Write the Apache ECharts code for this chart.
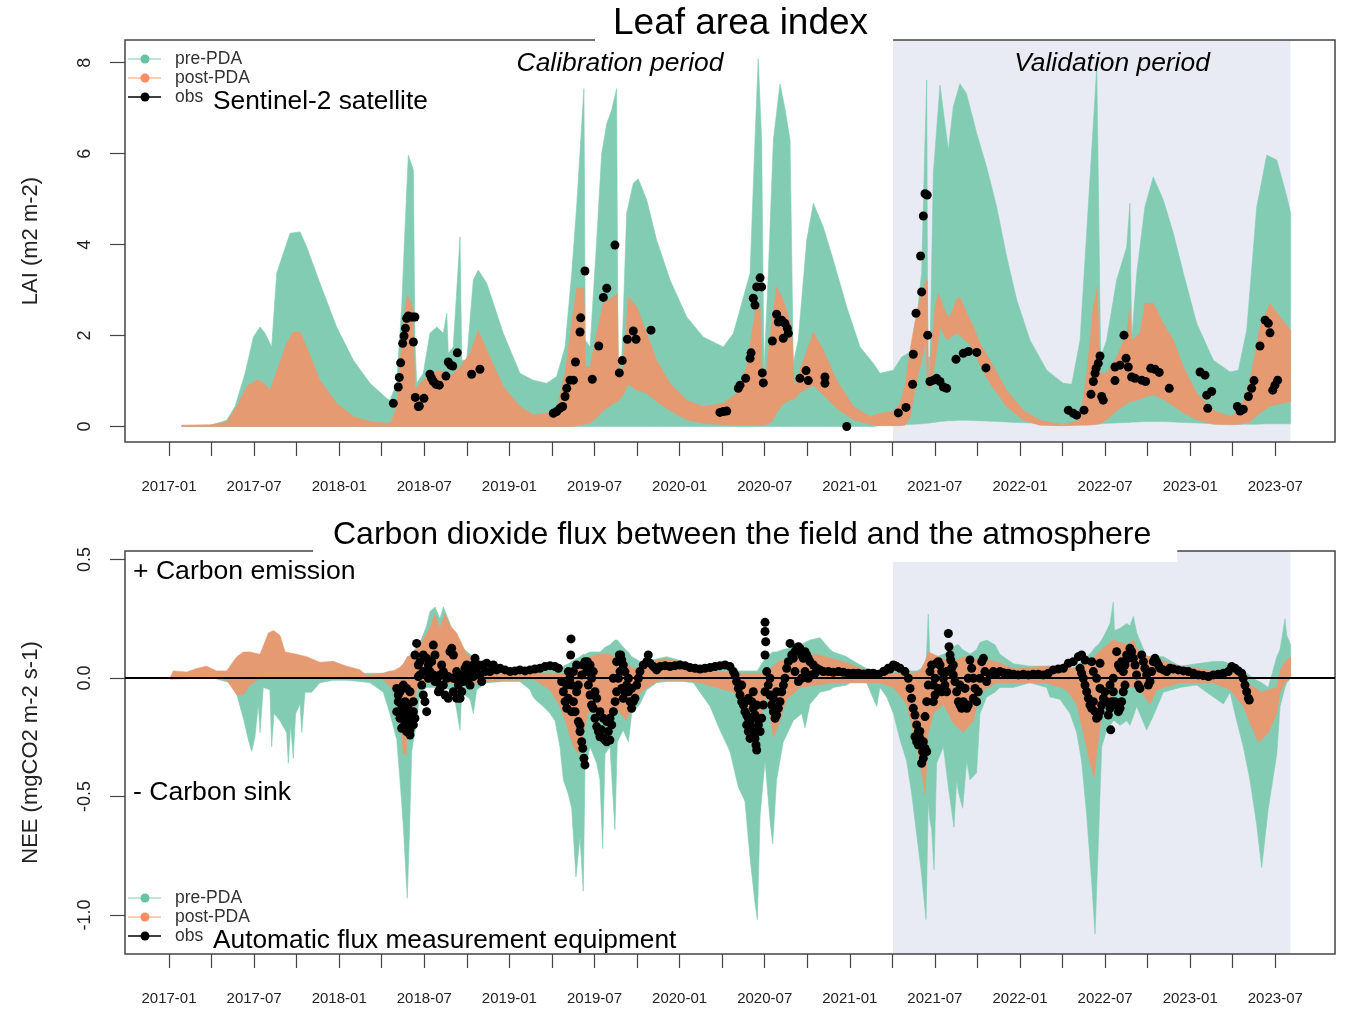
<!DOCTYPE html>
<html><head><meta charset="utf-8">
<script src="https://cdn.jsdelivr.net/npm/echarts@6/dist/echarts.min.js"></script>
<style>html,body{margin:0;padding:0;background:#fff}#c{width:1347px;height:1010px}</style>
</head><body><div id="c"></div>
<script>
// ---------- axis ticks / labels ----------
const xTickValues = [2017,2017.25,2017.5,2017.75,2018,2018.25,2018.5,2018.75,2019,2019.25,2019.5,2019.75,2020,2020.25,2020.5,2020.75,2021,2021.25,2021.5,2021.75,2022,2022.25,2022.5,2022.75,2023,2023.25,2023.5];
const xLabelValues = [2017,2017.5,2018,2018.5,2019,2019.5,2020,2020.5,2021,2021.5,2022,2022.5,2023,2023.5];
const laiTickValues = [0,2,4,6,8];
const neeTickValues = [-1,-0.5,0,0.5];
const validationPeriod = [2021.254, 2023.588];

// ---------- LAI (decimal year, lower, upper) ----------
const laiPreBand = [
[2017.074,0,0.00],[2017.241,0,0.02],[2017.339,0,0.14],[2017.388,0,0.44],[2017.447,0,1.17],[2017.496,0,1.97],[2017.535,0,2.19],[2017.564,0,2.05],[2017.603,0,1.75],[2017.633,0,3.37],[2017.672,0,3.81],[2017.711,0,4.25],[2017.770,0,4.28],[2017.809,0,3.95],[2017.887,0,3.15],[2017.985,0,2.19],[2018.083,0,1.46],[2018.181,0,0.95],[2018.279,0,0.62],[2018.298,0,0.58],[2018.338,0,0.95],[2018.367,0,2.63],[2018.387,0,4.39],[2018.406,0,5.97],[2018.436,0,5.64],[2018.445,0,1.90],[2018.455,0,0.95],[2018.494,0,1.17],[2018.533,0,2.05],[2018.573,0,2.19],[2018.612,0,2.05],[2018.632,0,2.49],[2018.641,0,1.61],[2018.670,0,1.75],[2018.710,0,4.17],[2018.720,0,1.46],[2018.749,0,1.46],[2018.788,0,3.22],[2018.817,0,3.44],[2018.867,0,3.15],[2018.964,0,2.05],[2019.062,0,1.17],[2019.140,0,1.02],[2019.219,0,0.95],[2019.278,0,1.10],[2019.327,0,1.75],[2019.366,0,3.37],[2019.395,0,4.83],[2019.425,0,6.66],[2019.438,0,7.43],[2019.446,0,1.90],[2019.474,0,1.75],[2019.513,0,4.10],[2019.542,0,6.00],[2019.572,0,6.66],[2019.601,0,6.96],[2019.630,0,7.43],[2019.638,0,1.46],[2019.660,0,1.46],[2019.689,0,4.69],[2019.728,0,5.35],[2019.757,0,5.45],[2019.807,0,4.98],[2019.865,0,4.10],[2019.944,0,3.22],[2020.042,0,2.41],[2020.139,0,1.97],[2020.257,0,1.75],[2020.316,0,2.05],[2020.365,0,2.71],[2020.414,0,3.37],[2020.443,0,6.30],[2020.462,0,8.09],[2020.482,0,6.30],[2020.496,0,1.24],[2020.521,0,3.37],[2020.551,0,6.30],[2020.590,0,7.54],[2020.619,0,6.99],[2020.649,0,6.30],[2020.668,0,1.39],[2020.697,0,1.90],[2020.747,0,4.10],[2020.786,0,4.91],[2020.844,0,4.39],[2020.903,0,3.66],[2020.982,0,2.63],[2021.060,0,1.75],[2021.138,0,1.39],[2021.177,0.02,1.17],[2021.256,0.03,1.24],[2021.305,0.04,1.53],[2021.373,0.05,1.68],[2021.422,0.06,3.37],[2021.442,0.07,6.30],[2021.452,0.07,7.62],[2021.458,0.07,1.53],[2021.471,0.08,1.53],[2021.491,0.09,5.57],[2021.530,0.11,7.51],[2021.559,0.12,6.66],[2021.579,0.13,6.08],[2021.608,0.13,7.03],[2021.647,0.14,7.54],[2021.686,0.14,7.32],[2021.746,0.13,6.44],[2021.804,0.12,5.71],[2021.863,0.11,4.83],[2021.922,0.10,3.73],[2021.981,0.09,2.78],[2022.059,0.08,1.90],[2022.157,0.06,1.24],[2022.254,0.05,0.95],[2022.304,0.05,0.93],[2022.353,0.05,1.90],[2022.401,0.05,4.83],[2022.431,0.06,6.66],[2022.451,0.06,7.91],[2022.474,0.06,1.53],[2022.509,0.07,1.90],[2022.568,0.08,3.22],[2022.627,0.09,3.95],[2022.646,0.09,4.91],[2022.656,0.10,1.90],[2022.686,0.10,3.37],[2022.734,0.11,4.83],[2022.783,0.11,5.49],[2022.842,0.11,4.98],[2022.901,0.10,4.25],[2022.960,0.09,3.37],[2023.038,0.08,2.27],[2023.136,0.06,1.46],[2023.234,0.05,1.20],[2023.283,0.05,1.24],[2023.332,0.05,2.12],[2023.391,0.05,4.83],[2023.450,0.06,5.97],[2023.509,0.06,5.86],[2023.568,0.06,5.05],[2023.590,0.06,4.69]
];
const laiPostBand = [
[2017.074,0,0.03],[2017.241,0,0.04],[2017.339,0,0.10],[2017.398,0,0.44],[2017.457,0,0.88],[2017.515,0,1.02],[2017.545,0,0.99],[2017.593,0,0.80],[2017.642,0,1.31],[2017.691,0,1.83],[2017.730,0,2.08],[2017.770,0,2.08],[2017.809,0,1.75],[2017.887,0,1.02],[2017.985,0,0.51],[2018.083,0,0.22],[2018.181,0,0.11],[2018.279,0,0.07],[2018.308,0,0.11],[2018.338,0,0.44],[2018.377,0,2.27],[2018.400,0,2.89],[2018.432,0,2.63],[2018.445,0,0.80],[2018.475,0,0.95],[2018.533,0,1.17],[2018.592,0,1.24],[2018.651,0,1.10],[2018.710,0,1.31],[2018.769,0,1.61],[2018.817,0,2.12],[2018.867,0,1.68],[2018.964,0,0.88],[2019.062,0,0.44],[2019.140,0,0.26],[2019.219,0,0.29],[2019.278,0,0.40],[2019.327,0,1.17],[2019.366,0,2.27],[2019.395,0.02,3.04],[2019.438,0.05,3.04],[2019.446,0.06,1.31],[2019.474,0.07,1.31],[2019.513,0.20,2.05],[2019.552,0.35,2.71],[2019.611,0.51,2.85],[2019.634,0.55,2.93],[2019.642,0.56,1.17],[2019.669,0.70,1.31],[2019.699,0.93,2.85],[2019.748,0.80,2.63],[2019.807,0.73,2.05],[2019.865,0.55,1.46],[2019.944,0.35,0.95],[2020.042,0.15,0.58],[2020.139,0.07,0.44],[2020.257,0.04,0.51],[2020.336,0.03,0.73],[2020.394,0.03,1.31],[2020.424,0.03,2.05],[2020.453,0.03,2.71],[2020.473,0.03,2.63],[2020.488,0.03,0.88],[2020.512,0.05,1.31],[2020.541,0.10,2.27],[2020.570,0.30,3.08],[2020.609,0.50,2.78],[2020.658,0.60,2.19],[2020.674,0.60,0.88],[2020.707,0.75,1.24],[2020.756,0.85,1.75],[2020.786,0.90,2.08],[2020.844,0.70,1.68],[2020.923,0.40,1.02],[2021.021,0.15,0.44],[2021.119,0.05,0.22],[2021.177,0.02,0.29],[2021.256,0.02,0.33],[2021.295,0.02,0.51],[2021.324,0.03,0.90],[2021.354,0.20,1.68],[2021.383,0.80,2.30],[2021.412,1.30,2.78],[2021.448,1.90,3.22],[2021.455,0.90,3.20],[2021.462,0.85,0.90],[2021.471,0.85,1.30],[2021.500,1.40,2.60],[2021.520,1.90,2.93],[2021.530,2.19,2.85],[2021.569,1.90,2.45],[2021.589,1.95,2.41],[2021.628,2.05,2.80],[2021.647,2.00,2.85],[2021.706,1.80,2.34],[2021.726,1.68,2.20],[2021.765,1.35,1.83],[2021.824,0.95,1.46],[2021.921,0.44,0.80],[2022.019,0.14,0.36],[2022.117,0.03,0.14],[2022.215,0.02,0.07],[2022.254,0.02,0.04],[2022.353,0.03,0.14],[2022.392,0.03,1.17],[2022.431,0.04,2.63],[2022.455,0.05,3.08],[2022.470,0.06,1.17],[2022.509,0.15,1.17],[2022.568,0.35,1.53],[2022.627,0.50,2.05],[2022.646,0.55,2.63],[2022.656,0.55,1.90],[2022.705,0.60,2.05],[2022.734,0.65,2.71],[2022.783,0.70,2.71],[2022.842,0.60,2.27],[2022.901,0.45,1.90],[2022.960,0.30,1.31],[2023.038,0.15,0.73],[2023.136,0.05,0.36],[2023.234,0.04,0.22],[2023.293,0.05,0.36],[2023.351,0.10,1.02],[2023.410,0.30,2.19],[2023.469,0.45,2.71],[2023.528,0.50,2.41],[2023.590,0.55,2.12]
];
const laiObs = [
[2018.318,0.51],[2018.347,0.87],[2018.353,1.08],[2018.361,1.40],[2018.373,1.83],[2018.381,1.99],[2018.389,2.16],[2018.396,2.38],[2018.406,2.43],[2018.416,2.41],[2018.432,2.41],[2018.445,2.41],[2018.436,1.86],[2018.447,0.64],[2018.465,0.44],[2018.471,0.45],[2018.498,0.62],[2018.533,1.15],[2018.543,1.06],[2018.553,0.99],[2018.569,0.93],[2018.588,0.91],[2018.627,1.11],[2018.641,1.42],[2018.655,1.35],[2018.667,1.33],[2018.694,1.62],[2018.778,1.15],[2018.827,1.26],
[2019.258,0.29],[2019.278,0.33],[2019.297,0.40],[2019.313,0.44],[2019.327,0.66],[2019.337,0.84],[2019.356,1.02],[2019.376,1.02],[2019.388,1.42],[2019.415,2.08],[2019.419,2.39],[2019.444,3.42],[2019.487,1.04],[2019.525,1.77],[2019.552,2.84],[2019.572,3.04],[2019.620,3.99],[2019.646,1.18],[2019.663,1.45],[2019.693,1.92],[2019.728,2.10],[2019.744,1.92],[2019.832,2.12],
[2020.237,0.31],[2020.257,0.33],[2020.277,0.34],[2020.345,0.84],[2020.355,0.91],[2020.388,1.06],[2020.414,1.50],[2020.420,1.62],[2020.433,2.82],[2020.443,2.67],[2020.453,3.07],[2020.473,3.27],[2020.482,3.07],[2020.486,1.18],[2020.492,0.96],[2020.545,1.88],[2020.570,2.47],[2020.580,2.30],[2020.600,2.34],[2020.609,1.94],[2020.619,2.27],[2020.633,2.16],[2020.639,2.05],[2020.707,1.06],[2020.743,1.23],[2020.756,1.01],[2020.854,1.09],[2020.854,0.95],[2020.982,0.00],
[2021.285,0.30],[2021.330,0.42],[2021.369,0.93],[2021.373,1.59],[2021.389,2.49],[2021.422,2.96],[2021.416,3.75],[2021.432,4.63],[2021.442,5.12],[2021.455,5.09],[2021.458,2.01],[2021.471,0.99],[2021.491,1.02],[2021.510,1.06],[2021.530,0.99],[2021.550,0.87],[2021.569,0.84],[2021.624,1.48],[2021.667,1.61],[2021.697,1.65],[2021.746,1.63],[2021.800,1.29],
[2022.284,0.36],[2022.313,0.29],[2022.333,0.25],[2022.376,0.36],[2022.417,0.71],[2022.431,0.99],[2022.441,1.17],[2022.447,1.28],[2022.460,1.39],[2022.470,1.55],[2022.480,0.66],[2022.489,0.58],[2022.558,1.01],[2022.558,1.31],[2022.588,1.35],[2022.611,2.01],[2022.623,1.50],[2022.636,1.31],[2022.656,1.09],[2022.676,1.06],[2022.715,1.02],[2022.738,0.99],[2022.768,1.28],[2022.793,1.26],[2022.818,1.19],[2022.877,0.84],
[2023.058,1.20],[2023.087,1.13],[2023.097,0.69],[2023.126,0.77],[2023.103,0.40],[2023.277,0.44],[2023.293,0.34],[2023.312,0.38],[2023.342,0.66],[2023.361,0.84],[2023.375,1.01],[2023.410,1.77],[2023.440,2.34],[2023.459,2.27],[2023.469,2.06],[2023.485,0.80],[2023.498,0.91],[2023.514,1.02]
];

// ---------- NEE (decimal year, lower, upper) ----------
const neePreBand = [
[2017.006,-0.005,0.00],[2017.260,0,0.01],[2017.358,-0.02,0.01],[2017.398,-0.07,0.01],[2017.437,-0.17,0.01],[2017.466,-0.26,0.01],[2017.486,-0.31,0.01],[2017.505,-0.25,0.01],[2017.525,-0.11,0.01],[2017.535,-0.23,0.01],[2017.554,-0.04,0.01],[2017.593,-0.05,0.02],[2017.603,-0.29,0.02],[2017.617,-0.15,0.02],[2017.652,-0.18,0.02],[2017.691,-0.23,0.02],[2017.701,-0.36,0.02],[2017.715,-0.20,0.02],[2017.730,-0.34,0.02],[2017.744,-0.15,0.02],[2017.770,-0.11,0.02],[2017.780,-0.23,0.02],[2017.799,-0.06,0.02],[2017.838,-0.06,0.02],[2017.887,-0.02,0.06],[2017.965,-0.01,0.07],[2018.044,-0.01,0.04],[2018.122,-0.015,0.02],[2018.181,-0.02,0.02],[2018.259,-0.06,0.02],[2018.298,-0.15,0.03],[2018.338,-0.26,0.03],[2018.357,-0.43,0.04],[2018.377,-0.63,0.05],[2018.393,-0.84,0.06],[2018.400,-0.93,0.07],[2018.412,-0.67,0.08],[2018.426,-0.31,0.09],[2018.445,-0.23,0.12],[2018.475,-0.06,0.15],[2018.514,-0.04,0.22],[2018.533,-0.04,0.28],[2018.563,-0.04,0.30],[2018.592,-0.04,0.25],[2018.612,-0.04,0.30],[2018.651,-0.05,0.23],[2018.670,-0.05,0.19],[2018.710,-0.22,0.15],[2018.720,-0.06,0.13],[2018.769,-0.09,0.10],[2018.788,-0.15,0.09],[2018.808,-0.05,0.08],[2018.867,-0.02,0.06],[2018.964,-0.015,0.04],[2019.062,-0.015,0.035],[2019.121,-0.05,0.035],[2019.140,-0.08,0.03],[2019.150,-0.09,0.03],[2019.199,-0.12,0.03],[2019.239,-0.15,0.04],[2019.268,-0.18,0.04],[2019.297,-0.29,0.04],[2019.317,-0.43,0.05],[2019.346,-0.49,0.06],[2019.366,-0.55,0.07],[2019.391,-0.84,0.08],[2019.415,-0.67,0.09],[2019.434,-0.90,0.10],[2019.444,-0.39,0.10],[2019.474,-0.29,0.11],[2019.513,-0.36,0.11],[2019.532,-0.43,0.11],[2019.548,-0.72,0.12],[2019.562,-0.32,0.13],[2019.591,-0.29,0.14],[2019.620,-0.64,0.16],[2019.634,-0.27,0.16],[2019.669,-0.22,0.13],[2019.699,-0.27,0.11],[2019.719,-0.15,0.09],[2019.767,-0.11,0.07],[2019.807,-0.05,0.07],[2019.865,-0.02,0.08],[2019.924,-0.015,0.09],[2020.022,-0.015,0.07],[2020.081,-0.02,0.05],[2020.120,-0.06,0.04],[2020.179,-0.12,0.04],[2020.237,-0.22,0.04],[2020.296,-0.31,0.03],[2020.345,-0.46,0.03],[2020.384,-0.52,0.03],[2020.414,-0.76,0.03],[2020.443,-0.95,0.03],[2020.457,-1.02,0.03],[2020.473,-0.58,0.05],[2020.502,-0.35,0.08],[2020.531,-0.60,0.10],[2020.547,-0.70,0.11],[2020.570,-0.43,0.11],[2020.609,-0.27,0.12],[2020.668,-0.18,0.13],[2020.717,-0.15,0.14],[2020.737,-0.21,0.15],[2020.766,-0.11,0.16],[2020.825,-0.06,0.17],[2020.884,-0.05,0.12],[2020.903,-0.04,0.11],[2020.982,-0.03,0.09],[2021.001,-0.02,0.08],[2021.099,-0.02,0.04],[2021.158,-0.12,0.03],[2021.177,-0.04,0.03],[2021.217,-0.08,0.03],[2021.256,-0.15,0.03],[2021.295,-0.26,0.03],[2021.334,-0.35,0.03],[2021.364,-0.49,0.03],[2021.393,-0.66,0.03],[2021.422,-0.83,0.04],[2021.448,-1.02,0.05],[2021.461,-0.52,0.27],[2021.471,-0.60,0.08],[2021.481,-0.64,0.08],[2021.495,-0.81,0.09],[2021.510,-0.36,0.09],[2021.550,-0.29,0.10],[2021.579,-0.46,0.11],[2021.612,-0.63,0.13],[2021.628,-0.43,0.14],[2021.638,-0.48,0.14],[2021.663,-0.55,0.12],[2021.687,-0.35,0.11],[2021.706,-0.43,0.10],[2021.745,-0.40,0.12],[2021.765,-0.15,0.15],[2021.804,-0.08,0.16],[2021.853,-0.06,0.14],[2021.882,-0.04,0.10],[2021.961,-0.04,0.06],[2022.059,-0.02,0.05],[2022.157,-0.04,0.05],[2022.176,-0.08,0.05],[2022.235,-0.09,0.04],[2022.294,-0.15,0.04],[2022.333,-0.23,0.05],[2022.362,-0.35,0.07],[2022.392,-0.58,0.09],[2022.421,-0.86,0.11],[2022.441,-1.08,0.13],[2022.460,-0.70,0.14],[2022.480,-0.29,0.16],[2022.509,-0.22,0.20],[2022.529,-0.20,0.23],[2022.548,-0.18,0.32],[2022.555,-0.18,0.20],[2022.588,-0.20,0.21],[2022.627,-0.18,0.23],[2022.646,-0.20,0.22],[2022.666,-0.16,0.26],[2022.686,-0.12,0.19],[2022.744,-0.22,0.09],[2022.783,-0.16,0.09],[2022.842,-0.06,0.09],[2022.940,-0.04,0.05],[2023.038,-0.03,0.06],[2023.136,-0.08,0.07],[2023.195,-0.11,0.07],[2023.234,-0.06,0.06],[2023.273,-0.18,0.05],[2023.312,-0.29,0.03],[2023.351,-0.43,0.01],[2023.391,-0.62,-0.01],[2023.420,-0.80,-0.02],[2023.459,-0.55,-0.04],[2023.509,-0.32,0.09],[2023.528,-0.12,0.12],[2023.557,-0.04,0.25],[2023.567,-0.02,0.18],[2023.590,0,0.14]
];
const neePostBand = [
[2017.006,0,0.00],[2017.025,0,0.03],[2017.104,0,0.025],[2017.163,0,0.04],[2017.221,0,0.05],[2017.280,0,0.03],[2017.339,-0.01,0.03],[2017.378,-0.05,0.07],[2017.398,-0.07,0.09],[2017.437,-0.07,0.11],[2017.476,-0.03,0.11],[2017.535,0,0.10],[2017.584,0,0.19],[2017.613,0,0.20],[2017.652,0,0.18],[2017.682,0,0.11],[2017.750,0,0.10],[2017.809,0,0.09],[2017.887,0,0.066],[2017.965,0,0.07],[2018.044,0,0.05],[2018.122,0,0.035],[2018.161,0,0.01],[2018.259,-0.005,0.02],[2018.318,-0.05,0.03],[2018.357,-0.17,0.045],[2018.377,-0.32,0.06],[2018.393,-0.32,0.08],[2018.400,-0.20,0.09],[2018.436,-0.15,0.10],[2018.455,-0.05,0.12],[2018.475,-0.02,0.14],[2018.533,-0.02,0.21],[2018.563,-0.02,0.27],[2018.592,-0.02,0.21],[2018.622,-0.02,0.27],[2018.651,-0.02,0.22],[2018.690,-0.02,0.19],[2018.749,-0.03,0.10],[2018.827,-0.02,0.06],[2018.964,-0.01,0.035],[2019.062,-0.01,0.025],[2019.141,-0.005,0.02],[2019.239,-0.05,0.02],[2019.297,-0.12,0.02],[2019.337,-0.20,0.02],[2019.376,-0.29,0.03],[2019.405,-0.32,0.04],[2019.415,-0.30,0.05],[2019.434,-0.23,0.06],[2019.474,-0.12,0.09],[2019.532,-0.18,0.10],[2019.572,-0.18,0.10],[2019.591,-0.15,0.10],[2019.630,-0.13,0.08],[2019.689,-0.18,0.06],[2019.728,-0.09,0.04],[2019.807,-0.04,0.05],[2019.885,-0.01,0.08],[2019.924,-0.01,0.08],[2020.002,-0.01,0.07],[2020.120,-0.02,0.05],[2020.218,-0.04,0.03],[2020.316,-0.06,0.02],[2020.394,-0.12,0.02],[2020.433,-0.29,0.02],[2020.453,-0.29,0.02],[2020.482,-0.15,0.02],[2020.512,-0.06,0.03],[2020.551,-0.25,0.05],[2020.580,-0.20,0.07],[2020.629,-0.09,0.08],[2020.707,-0.04,0.09],[2020.805,-0.03,0.10],[2020.903,-0.02,0.08],[2021.001,-0.02,0.06],[2021.099,-0.02,0.03],[2021.177,-0.02,0.02],[2021.256,-0.04,0.02],[2021.334,-0.11,0.02],[2021.373,-0.23,0.02],[2021.413,-0.36,0.03],[2021.442,-0.49,0.07],[2021.461,-0.23,0.11],[2021.491,-0.15,0.10],[2021.550,-0.11,0.08],[2021.608,-0.19,0.07],[2021.667,-0.23,0.09],[2021.726,-0.18,0.08],[2021.765,-0.06,0.08],[2021.863,-0.02,0.07],[2021.961,-0.02,0.04],[2022.157,-0.02,0.05],[2022.274,-0.05,0.045],[2022.333,-0.11,0.04],[2022.372,-0.23,0.05],[2022.411,-0.36,0.07],[2022.435,-0.42,0.09],[2022.450,-0.32,0.10],[2022.480,-0.15,0.12],[2022.548,-0.06,0.16],[2022.627,-0.04,0.14],[2022.666,-0.04,0.16],[2022.705,-0.05,0.10],[2022.764,-0.11,0.09],[2022.803,-0.05,0.08],[2022.940,-0.02,0.05],[2023.136,-0.02,0.03],[2023.234,-0.05,0.03],[2023.312,-0.12,0.00],[2023.351,-0.19,-0.03],[2023.400,-0.27,-0.05],[2023.420,-0.26,-0.06],[2023.459,-0.23,-0.05],[2023.509,-0.15,-0.04],[2023.528,-0.06,0.03],[2023.557,-0.02,0.07],[2023.590,0,0.09]
];
const neeObs = [
[2018.338,-0.044],[2018.357,-0.058],[2018.347,-0.100],[2018.367,-0.114],[2018.338,-0.142],[2018.377,-0.142],[2018.357,-0.170],[2018.387,-0.184],[2018.367,-0.212],[2018.396,-0.226],[2018.416,-0.219],[2018.436,-0.198],[2018.426,-0.156],[2018.445,-0.170],[2018.406,-0.114],[2018.436,-0.100],[2018.416,-0.058],[2018.396,-0.044],[2018.377,-0.030],[2018.347,-0.072],[2018.387,-0.100],[2018.406,-0.170],[2018.426,-0.198],[2018.377,-0.205],[2018.396,-0.142],[2018.436,-0.142],[2018.367,-0.156],[2018.416,-0.241],
[2018.455,0.146],[2018.445,0.097],[2018.465,0.055],[2018.475,0.013],[2018.485,-0.030],[2018.494,-0.072],[2018.504,-0.100],[2018.514,-0.142],[2018.524,-0.001],[2018.533,0.027],[2018.543,0.069],[2018.553,0.139],[2018.563,0.097],[2018.573,-0.015],[2018.583,-0.058],[2018.592,0.013],[2018.602,0.055],[2018.612,-0.030],[2018.622,-0.072],[2018.632,-0.001],[2018.641,-0.086],[2018.651,0.111],[2018.661,0.125],[2018.671,0.097],[2018.680,-0.001],[2018.690,0.027],[2018.700,-0.030],[2018.710,-0.086],[2018.720,-0.058],[2018.729,0.013],[2018.739,0.041],[2018.749,0.055],[2018.759,-0.001],[2018.769,-0.030],[2018.778,0.027],[2018.788,0.055],[2018.798,0.083],[2018.808,0.041],[2018.827,0.013],[2018.837,-0.015],[2018.847,0.055],[2018.867,0.062],[2018.886,0.027],[2018.906,0.055],[2018.925,0.034],[2018.945,0.041],
[2018.465,0.006],[2018.494,0.027],[2018.524,0.055],[2018.553,0.013],[2018.583,0.006],[2018.612,0.027],[2018.641,0.006],[2018.671,-0.001],[2018.700,0.006],[2018.729,-0.015],[2018.759,0.027],[2018.788,0.006],[2018.817,0.055],[2018.857,0.027],[2018.475,0.069],[2018.494,0.097],[2018.514,0.083],[2018.563,-0.015],[2018.592,-0.044],[2018.671,-0.058],[2018.690,-0.086],[2018.749,0.027],[2018.798,0.048],
[2018.974,0.034],[2019.004,0.027],[2019.033,0.030],[2019.062,0.034],[2019.092,0.030],[2019.121,0.034],[2019.150,0.038],[2019.180,0.041],[2019.209,0.048],[2019.239,0.052],[2019.268,0.048],[2019.288,0.041],
[2019.307,-0.015],[2019.317,-0.058],[2019.327,-0.100],[2019.337,-0.128],[2019.346,-0.086],[2019.356,-0.001],[2019.360,0.097],[2019.362,0.165],[2019.366,-0.030],[2019.376,-0.100],[2019.386,-0.142],[2019.395,0.055],[2019.405,-0.184],[2019.415,-0.226],[2019.425,-0.269],[2019.431,-0.297],[2019.438,-0.339],[2019.444,-0.367],[2019.415,-0.198],[2019.405,-0.030],[2019.425,0.013],[2019.434,0.055],[2019.444,0.069],[2019.454,0.027],[2019.464,-0.030],[2019.474,-0.072],[2019.483,-0.114],[2019.493,-0.128],[2019.503,-0.170],[2019.513,-0.205],[2019.523,-0.226],[2019.532,-0.248],[2019.542,-0.219],[2019.552,-0.255],[2019.562,-0.262],[2019.572,-0.269],[2019.581,-0.226],[2019.591,-0.262],[2019.601,-0.198],[2019.611,-0.142],[2019.621,-0.100],[2019.630,-0.058],[2019.640,-0.001],[2019.646,0.097],[2019.654,0.097],[2019.660,0.076],[2019.669,0.055],[2019.679,0.027],[2019.689,-0.030],[2019.699,-0.058],[2019.709,-0.100],[2019.718,-0.128],[2019.728,-0.100],[2019.738,-0.086],[2019.748,-0.030],[2019.758,-0.001],[2019.767,0.027],[2019.787,0.055],[2019.807,0.069],[2019.816,0.097],[2019.826,0.062],[2019.846,0.048],[2019.865,0.034],
[2019.458,0.069],[2019.474,0.055],[2019.493,0.027],[2019.483,-0.001],[2019.503,-0.058],[2019.513,-0.086],[2019.532,-0.142],[2019.552,-0.170],[2019.572,-0.184],[2019.591,-0.170],[2019.611,-0.001],[2019.630,0.069],[2019.650,0.027],[2019.660,-0.044],[2019.669,-0.086],[2019.679,-0.058],[2019.699,-0.001],[2019.718,-0.044],[2019.346,0.027],[2019.376,0.027],[2019.395,-0.058],[2019.337,-0.030],[2019.366,-0.142],
[2019.885,0.048],[2019.914,0.052],[2019.944,0.048],[2019.973,0.052],[2020.002,0.055],[2020.032,0.052],[2020.061,0.044],[2020.091,0.041],[2020.120,0.038],[2020.149,0.041],[2020.179,0.044],[2020.208,0.048],[2020.237,0.052],[2020.267,0.055],[2020.296,0.048],
[2020.316,0.027],[2020.326,0.013],[2020.335,-0.015],[2020.345,-0.044],[2020.355,-0.072],[2020.365,-0.100],[2020.375,-0.114],[2020.384,-0.142],[2020.394,-0.156],[2020.404,-0.170],[2020.414,-0.184],[2020.424,-0.212],[2020.433,-0.226],[2020.443,-0.255],[2020.449,-0.283],[2020.453,-0.304],[2020.404,-0.226],[2020.414,-0.255],[2020.394,-0.198],[2020.384,-0.100],[2020.404,-0.086],[2020.424,-0.100],[2020.433,-0.128],[2020.443,-0.156],[2020.453,-0.170],[2020.463,-0.198],[2020.473,-0.226],[2020.482,-0.170],[2020.492,-0.114],[2020.502,-0.058],[2020.502,0.097],[2020.506,0.153],[2020.502,0.196],[2020.502,0.235],[2020.512,0.027],[2020.521,-0.030],[2020.531,-0.072],[2020.541,-0.114],[2020.551,-0.142],[2020.561,-0.170],[2020.570,-0.156],[2020.580,-0.128],[2020.590,-0.100],[2020.600,-0.058],[2020.610,-0.030],[2020.619,-0.001],[2020.629,0.041],[2020.639,0.069],[2020.649,0.146],[2020.659,0.097],[2020.668,0.083],[2020.678,0.111],[2020.688,0.125],[2020.698,0.132],[2020.707,0.125],[2020.717,0.097],[2020.727,0.083],[2020.737,0.111],[2020.747,0.097],[2020.756,0.083],[2020.766,0.069],[2020.786,0.055],[2020.805,0.041],[2020.825,0.034],
[2020.678,0.027],[2020.698,-0.015],[2020.717,-0.001],[2020.737,0.027],[2020.756,-0.001],[2020.776,0.013],[2020.796,0.020],[2020.551,-0.086],[2020.570,-0.058],[2020.531,-0.001],[2020.433,-0.058],[2020.453,-0.114],[2020.365,-0.030],
[2020.845,0.027],[2020.874,0.027],[2020.903,0.024],[2020.933,0.027],[2020.962,0.024],[2020.991,0.020],[2021.021,0.020],[2021.050,0.020],[2021.080,0.017],[2021.109,0.020],[2021.138,0.020],[2021.168,0.016],[2021.197,0.027],[2021.226,0.041],[2021.256,0.055],[2021.275,0.048],[2021.295,0.041],[2021.324,0.027],[2021.344,-0.001],
[2021.207,0.030],[2021.236,0.038],[2021.266,0.052],
[2021.354,-0.044],[2021.363,-0.086],[2021.373,-0.128],[2021.383,-0.156],[2021.393,-0.198],[2021.403,-0.226],[2021.412,-0.255],[2021.422,-0.283],[2021.428,-0.311],[2021.432,-0.339],[2021.422,-0.360],[2021.403,-0.283],[2021.393,-0.269],[2021.383,-0.248],[2021.442,-0.297],[2021.452,-0.311],[2021.432,-0.269],[2021.412,-0.226],[2021.442,-0.163],
[2021.452,-0.100],[2021.461,-0.030],[2021.471,0.027],[2021.481,0.055],[2021.491,-0.030],[2021.501,-0.072],[2021.491,-0.100],[2021.510,0.062],[2021.520,0.069],[2021.530,0.055],[2021.540,0.027],[2021.550,-0.001],[2021.559,-0.030],[2021.569,-0.058],[2021.579,0.188],[2021.583,0.132],[2021.589,0.097],[2021.593,0.076],[2021.598,0.041],[2021.608,0.013],[2021.618,-0.015],[2021.628,-0.058],[2021.638,-0.100],[2021.647,-0.114],[2021.657,-0.128],[2021.667,-0.100],[2021.677,-0.114],[2021.687,-0.128],[2021.696,-0.114],[2021.706,0.076],[2021.716,0.041],[2021.726,-0.001],[2021.736,-0.044],[2021.745,-0.100],[2021.755,-0.058],[2021.765,-0.001],[2021.775,0.069],[2021.785,0.083],[2021.794,0.027],[2021.804,-0.015],[2021.824,0.013],[2021.843,0.027],[2021.863,0.020],[2021.882,0.027],
[2021.501,-0.001],[2021.520,-0.044],[2021.540,-0.058],[2021.569,0.027],[2021.608,0.055],[2021.647,-0.030],[2021.677,-0.044],[2021.696,-0.001],[2021.726,-0.086],
[2021.902,0.022],[2021.931,0.020],[2021.961,0.016],[2021.990,0.013],[2022.020,0.016],[2022.049,0.013],[2022.078,0.016],[2022.108,0.016],[2022.137,0.013],[2022.166,0.020],[2022.196,0.034],[2022.225,0.038],[2022.255,0.041],[2022.284,0.062],[2022.313,0.069],[2022.343,0.090],[2022.362,0.097],[2022.382,0.076],
[2022.353,0.041],[2022.362,0.020],[2022.372,-0.001],[2022.382,-0.030],[2022.392,-0.058],[2022.402,-0.086],[2022.411,-0.114],[2022.421,-0.128],[2022.431,-0.100],[2022.441,-0.142],[2022.450,-0.170],[2022.460,-0.163],[2022.470,-0.142],[2022.480,-0.114],[2022.490,-0.086],[2022.499,-0.058],[2022.509,-0.100],[2022.519,-0.156],[2022.529,-0.128],[2022.533,-0.219],[2022.539,-0.100],[2022.548,-0.058],[2022.558,-0.100],[2022.568,-0.114],[2022.578,-0.142],[2022.588,-0.128],[2022.597,-0.100],[2022.607,-0.058],[2022.617,-0.030],[2022.568,0.111],[2022.578,0.055],[2022.588,0.041],[2022.597,0.069],[2022.607,0.027],[2022.617,0.055],[2022.627,0.097],[2022.637,0.083],[2022.646,0.125],[2022.656,0.111],[2022.666,0.083],[2022.676,0.055],[2022.685,0.013],[2022.695,-0.030],[2022.705,-0.044],[2022.715,0.097],[2022.725,0.069],[2022.734,0.041],[2022.744,0.013],[2022.754,-0.030],[2022.764,-0.015],[2022.774,0.027],[2022.783,0.069],[2022.793,0.083],[2022.803,0.069],[2022.813,0.055],[2022.823,0.041],[2022.842,0.034],[2022.862,0.027],[2022.881,0.041],
[2022.421,0.069],[2022.470,0.062],[2022.431,0.027],[2022.450,-0.001],[2022.470,-0.044],[2022.529,-0.030],[2022.548,-0.001],
[2022.901,0.038],[2022.930,0.034],[2022.960,0.030],[2022.989,0.027],[2023.018,0.020],[2023.048,0.013],[2023.077,0.010],[2023.107,0.006],[2023.136,0.013],[2023.165,0.016],[2023.195,0.020],[2023.224,0.027],[2023.244,0.048],[2023.263,0.041],[2023.283,0.030],[2023.302,0.020],[2023.312,-0.001],[2023.322,-0.030],[2023.332,-0.058],[2023.342,-0.086],[2023.347,-0.093]
];

// ---------- styling ----------
const FONT = 'Liberation Sans, Arial, Helvetica, sans-serif';
const GREEN = '#82CCB4', ORANGE = '#E59A72', SHADE = '#E8EBF4';
const AXIS_COL = '#444';

// band between lower and upper, drawn as one polygon through the axis scales
function band(rows, color, gi, z) {
  return { type:'custom', xAxisIndex:gi, yAxisIndex:gi, silent:true, z:z, clip:true,
    data: rows, encode:{x:0, y:[1,2]},
    renderItem: function (params, api) {
      if (params.dataIndex !== 0) return null;
      const up = rows.map(r => api.coord([r[0], r[2]]));
      const lo = rows.slice().reverse().map(r => api.coord([r[0], r[1]]));
      return {type:'polygon', shape:{points: up.concat(lo)}, style:{fill:color, stroke:color, lineWidth:0.6}};
    } };
}

function xAxisOf(gi) {
  return { type:'value', gridIndex:gi, min:2016.7415, max:2023.8508,
    axisLine:{show:false, onZero:false}, splitLine:{show:false},
    axisTick:{show:true, inside:false, length:14, lineStyle:{color:AXIS_COL, width:1.2}, customValues:xTickValues},
    axisLabel:{customValues:xLabelValues, margin:37, fontSize:15, color:'#222', fontFamily:FONT,
      formatter: v => Math.floor(v + 1e-6) + ((v - Math.floor(v + 1e-6)) < 0.25 ? '-01' : '-07')} };
}

function legendGraphics(y0, caption) {
  const rows = [
    {y:y0, line:'#A9DCCB', dot:'#66C2A5', text:'pre-PDA'},
    {y:y0+19, line:'#FDBBA0', dot:'#FC8D62', text:'post-PDA'},
    {y:y0+38, line:'#000', dot:'#000', text:'obs'}
  ];
  const g = [];
  rows.forEach(r => {
    g.push({type:'line', z:10, shape:{x1:128, y1:r.y, x2:161, y2:r.y}, style:{stroke:r.line, lineWidth:1.6}});
    g.push({type:'circle', z:10, shape:{cx:145, cy:r.y, r:4.5}, style:{fill:r.dot}});
    g.push({type:'text', z:10, style:{text:r.text, x:175, y:r.y, fill:'#333', fontSize:17.5, fontFamily:FONT, align:'left', verticalAlign:'middle'}});
  });
  g.push({type:'text', z:10, style:{text:caption, x:213, y:y0+43, fill:'#000', fontSize:26.3, fontFamily:FONT, align:'left', verticalAlign:'middle'}});
  return g;
}

const option = {
  animation:false,
  backgroundColor:'#fff',
  title:[
    {text:'Leaf area index', left:595, top:0, padding:[4,25,4,18], backgroundColor:'#fff', z:8,
     textStyle:{fontSize:37, fontWeight:'normal', color:'#000', fontFamily:FONT, lineHeight:40}},
    {text:'Carbon dioxide flux between the field and the atmosphere', left:313, top:511, padding:[6,26,9,20], backgroundColor:'#fff', z:8,
     textStyle:{fontSize:32, fontWeight:'normal', color:'#000', fontFamily:FONT, lineHeight:36}}
  ],
  grid:[
    {left:125, top:40, width:1210, height:402, show:true, borderColor:'#444', borderWidth:1.5, backgroundColor:'transparent', z:4},
    {left:125, top:551, width:1210, height:403, show:true, borderColor:'#444', borderWidth:1.5, backgroundColor:'transparent', z:4}
  ],
  xAxis:[xAxisOf(0), xAxisOf(1)],
  yAxis:[
    {type:'value', gridIndex:0, min:-0.34, max:8.5, name:'LAI (m2 m-2)', nameLocation:'middle', nameGap:83, nameRotate:90,
     nameTextStyle:{fontSize:22, color:'#222', fontFamily:FONT},
     axisLine:{show:false, onZero:false}, splitLine:{show:false},
     axisTick:{show:true, length:15, lineStyle:{color:AXIS_COL, width:1.2}, customValues:laiTickValues},
     axisLabel:{customValues:laiTickValues, rotate:90, margin:31, fontSize:18, color:'#222', fontFamily:FONT}},
    {type:'value', gridIndex:1, min:-1.165, max:0.536, name:'NEE (mgCO2 m-2 s-1)', nameLocation:'middle', nameGap:83, nameRotate:90,
     nameTextStyle:{fontSize:22, color:'#222', fontFamily:FONT},
     axisLine:{show:false, onZero:false}, splitLine:{show:false},
     axisTick:{show:true, length:15, lineStyle:{color:AXIS_COL, width:1.2}, customValues:neeTickValues},
     axisLabel:{customValues:neeTickValues, rotate:90, margin:31, fontSize:18, color:'#222', fontFamily:FONT,
       formatter: v => v.toFixed(1)}}
  ],
  graphic: [].concat(
    legendGraphics(59, 'Sentinel-2 satellite'),
    legendGraphics(898, 'Automatic flux measurement equipment'),
    [
      {type:'text', z:10, style:{text:'Calibration period', x:620, y:64, fill:'#000', fontSize:26.4, fontStyle:'italic', fontFamily:FONT, align:'center', verticalAlign:'middle'}},
      {type:'text', z:10, style:{text:'Validation period', x:1112, y:64, fill:'#000', fontSize:26.4, fontStyle:'italic', fontFamily:FONT, align:'center', verticalAlign:'middle'}},
      {type:'text', z:10, style:{text:'+ Carbon emission', x:133, y:572, fill:'#000', fontSize:26.6, fontFamily:FONT, align:'left', verticalAlign:'middle'}},
      {type:'text', z:10, style:{text:'- Carbon sink', x:133, y:793, fill:'#000', fontSize:26.6, fontFamily:FONT, align:'left', verticalAlign:'middle'}}
    ]
  ),
  series: [
    band(laiPreBand, GREEN, 0, 2),
    band(laiPostBand, ORANGE, 0, 3),
    {type:'scatter', xAxisIndex:0, yAxisIndex:0, data:laiObs, symbolSize:9, itemStyle:{color:'#000', opacity:1}, z:5, silent:true,
      markArea:{silent:true, itemStyle:{color:SHADE}, data:[[{xAxis:validationPeriod[0]},{xAxis:validationPeriod[1]}]]}},
    band(neePreBand, GREEN, 1, 2),
    band(neePostBand, ORANGE, 1, 3),
    {type:'scatter', xAxisIndex:1, yAxisIndex:1, data:neeObs, symbolSize:9, itemStyle:{color:'#000', opacity:1}, z:5, silent:true,
      markArea:{silent:true, itemStyle:{color:SHADE}, data:[[{xAxis:validationPeriod[0]},{xAxis:validationPeriod[1]}]]},
      markLine:{silent:true, symbol:['none','none'], label:{show:false}, lineStyle:{color:'#000', width:2, type:'solid'}, data:[{yAxis:0}]}}
  ]
};

const chart = echarts.init(document.getElementById('c'), null, {renderer:'canvas'});
chart.setOption(option);
</script>
</body></html>
